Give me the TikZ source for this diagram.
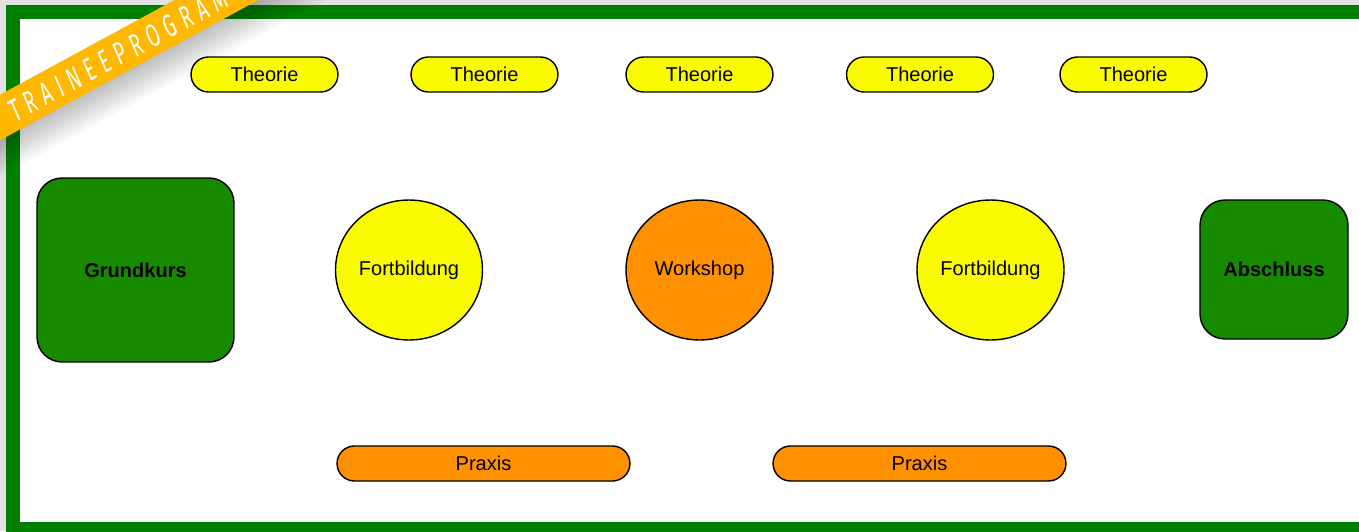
\documentclass[tikz,border=0pt]{standalone}
\usepackage{fontspec}
\setmainfont{Liberation Sans}
\newfontfamily\ribbonfont[LetterSpace=22,FakeStretch=0.6]{Fira Sans}
\usepackage{tikz}
\usetikzlibrary{shapes,arrows,positioning}
\definecolor{framegreen}{RGB}{0,128,0}
\definecolor{kursgreen}{RGB}{24,138,0}
\definecolor{theoyellow}{RGB}{250,250,0}
\definecolor{praxorange}{RGB}{255,145,0}
\definecolor{ribbonorange}{RGB}{255,184,0}
\definecolor{pagegrey}{RGB}{226,226,226}
\tikzset{
        label font/.style = {font=\fontsize{11.4}{13.7}\selectfont},
        theorie/.style = {draw, rectangle, label font, fill=theoyellow,
            line width=0.8pt, rounded corners=0.35cm,
            minimum height=0.7cm,
            minimum width=2.94cm},
        praxis/.style = {theorie, fill=praxorange,
            minimum width=5.86cm},
        kurs/.style = {draw, rectangle, label font, fill=kursgreen,
            line width=0.8pt, rounded corners=0.5cm, font=\fontsize{11.4}{13.7}\selectfont\bfseries},
        seminar/.style = {draw, ellipse, label font, line width=0.8pt,
            inner sep=0pt,
            minimum width=2.94cm,
            minimum height=2.8cm},
    }

\begin{document}
\begin{tikzpicture}[x=0.02cm, y=-0.02cm]
    \useasboundingbox (0,0) rectangle (1359,531);
    \clip (0,0) rectangle (1359,531);

    % page and frame
    \fill[pagegrey] (0,0) rectangle (1359,531);
    \fill[framegreen] (6,5) rectangle (1400,560);
    \fill[white] (20,19) rectangle (1400,522);

    % ribbon shadow
    \begin{scope}[shift={(0,117.5)}, rotate=28.5]
        \foreach \d in {3,6,...,33}
            \fill[black, opacity=0.025] (-100,19) rectangle (400,19+\d);
    \end{scope}

    % theory blocks
    \node[theorie] (theo1) at (264.5,74.5) {Theorie};
    \node[theorie] (theo2) at (484.5,74.5) {Theorie};
    \node[theorie] (theo3) at (699.5,74.5) {Theorie};
    \node[theorie] (theo4) at (920,74.5) {Theorie};
    \node[theorie] (theo5) at (1133.5,74.5) {Theorie};

    % main stages
    \node[kurs, minimum width=3.94cm, minimum height=3.68cm] (grund) at (135.5,270) {Grundkurs};
    \node[seminar, fill=theoyellow] (fort1) at (409,270) {Fortbildung};
    \node[seminar, fill=praxorange] (work) at (699.5,270) {Workshop};
    \node[seminar, fill=theoyellow] (fort2) at (990.5,270) {Fortbildung};
    \node[kurs, minimum width=2.96cm, minimum height=2.78cm] (absch) at (1274,269.5) {Abschluss};

    % practice blocks
    \node[praxis] (prax1) at (483.5,463.5) {Praxis};
    \node[praxis] (prax2) at (919.5,463.5) {Praxis};

    % ribbon
    \begin{scope}[shift={(0,117.5)}, rotate=28.5]
        \fill[ribbonorange] (-100,-20) rectangle (400,20);
        \node[transform shape, text=white, font=\ribbonfont\itshape\fontsize{18}{20}\selectfont] (ribbon) at (134,1) {TRAINEEPROGRAM};
    \end{scope}
\end{tikzpicture}
\end{document}
